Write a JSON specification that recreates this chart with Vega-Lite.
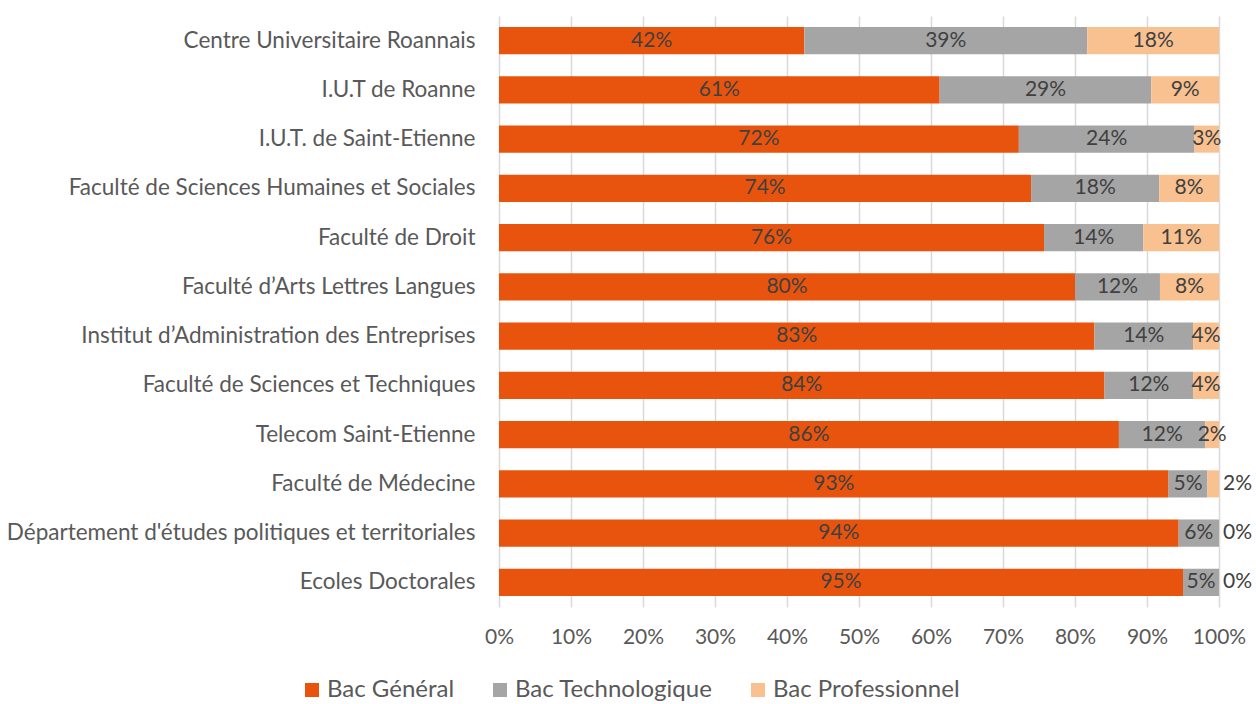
{
  "$schema": "https://vega.github.io/schema/vega-lite/v6.json",
  "width": 720,
  "height": 591,
  "autosize": {"type": "none"},
  "padding": {"left": 499, "top": 16, "right": 37, "bottom": 97},
  "background": "white",
  "config": {
    "view": {"stroke": null},
    "font": "Lato",
    "axis": {"labelFont": "Lato", "labelColor": "#595959"},
    "legend": {"labelFont": "Lato"}
  },
  "data": {
    "values": [
      {"etab": "Centre Universitaire Roannais", "type": "Bac Général", "value": 0.424},
      {"etab": "Centre Universitaire Roannais", "type": "Bac Technologique", "value": 0.393},
      {"etab": "Centre Universitaire Roannais", "type": "Bac Professionnel", "value": 0.183},
      {"etab": "I.U.T de Roanne", "type": "Bac Général", "value": 0.612},
      {"etab": "I.U.T de Roanne", "type": "Bac Technologique", "value": 0.294},
      {"etab": "I.U.T de Roanne", "type": "Bac Professionnel", "value": 0.094},
      {"etab": "I.U.T. de Saint-Etienne", "type": "Bac Général", "value": 0.722},
      {"etab": "I.U.T. de Saint-Etienne", "type": "Bac Technologique", "value": 0.244},
      {"etab": "I.U.T. de Saint-Etienne", "type": "Bac Professionnel", "value": 0.034},
      {"etab": "Faculté de Sciences Humaines et Sociales", "type": "Bac Général", "value": 0.739},
      {"etab": "Faculté de Sciences Humaines et Sociales", "type": "Bac Technologique", "value": 0.178},
      {"etab": "Faculté de Sciences Humaines et Sociales", "type": "Bac Professionnel", "value": 0.083},
      {"etab": "Faculté de Droit", "type": "Bac Général", "value": 0.757},
      {"etab": "Faculté de Droit", "type": "Bac Technologique", "value": 0.138},
      {"etab": "Faculté de Droit", "type": "Bac Professionnel", "value": 0.105},
      {"etab": "Faculté d’Arts Lettres Langues", "type": "Bac Général", "value": 0.800},
      {"etab": "Faculté d’Arts Lettres Langues", "type": "Bac Technologique", "value": 0.118},
      {"etab": "Faculté d’Arts Lettres Langues", "type": "Bac Professionnel", "value": 0.082},
      {"etab": "Institut d’Administration des Entreprises", "type": "Bac Général", "value": 0.827},
      {"etab": "Institut d’Administration des Entreprises", "type": "Bac Technologique", "value": 0.137},
      {"etab": "Institut d’Administration des Entreprises", "type": "Bac Professionnel", "value": 0.036},
      {"etab": "Faculté de Sciences et Techniques", "type": "Bac Général", "value": 0.841},
      {"etab": "Faculté de Sciences et Techniques", "type": "Bac Technologique", "value": 0.123},
      {"etab": "Faculté de Sciences et Techniques", "type": "Bac Professionnel", "value": 0.036},
      {"etab": "Telecom Saint-Etienne", "type": "Bac Général", "value": 0.861},
      {"etab": "Telecom Saint-Etienne", "type": "Bac Technologique", "value": 0.120},
      {"etab": "Telecom Saint-Etienne", "type": "Bac Professionnel", "value": 0.019},
      {"etab": "Faculté de Médecine", "type": "Bac Général", "value": 0.930},
      {"etab": "Faculté de Médecine", "type": "Bac Technologique", "value": 0.054},
      {"etab": "Faculté de Médecine", "type": "Bac Professionnel", "value": 0.016},
      {"etab": "Département d'études politiques et territoriales", "type": "Bac Général", "value": 0.944},
      {"etab": "Département d'études politiques et territoriales", "type": "Bac Technologique", "value": 0.056},
      {"etab": "Département d'études politiques et territoriales", "type": "Bac Professionnel", "value": 0.0},
      {"etab": "Ecoles Doctorales", "type": "Bac Général", "value": 0.950},
      {"etab": "Ecoles Doctorales", "type": "Bac Technologique", "value": 0.050},
      {"etab": "Ecoles Doctorales", "type": "Bac Professionnel", "value": 0.0}
    ]
  },
  "transform": [
    {"calculate": "indexof(['Bac Général','Bac Technologique','Bac Professionnel'], datum.type)", "as": "k"},
    {"stack": "value", "groupby": ["etab"], "sort": [{"field": "k", "order": "ascending"}], "as": ["x0", "x1"]},
    {"calculate": "(datum.x0 + datum.x1) / 2", "as": "mid"}
  ],
  "encoding": {
    "y": {
      "field": "etab",
      "type": "nominal",
      "sort": null,
      "title": null,
      "scale": {"paddingInner": 0.45, "paddingOuter": 0.225},
      "axis": {"ticks": false, "domain": false, "labelFontSize": 22.5, "labelPadding": 24, "labelLimit": 500}
    }
  },
  "layer": [
    {
      "mark": {"type": "bar"},
      "encoding": {
        "x": {
          "field": "x0",
          "type": "quantitative",
          "scale": {"domain": [0, 1], "nice": false},
          "title": null,
          "axis": {
            "format": ".0%",
            "values": [0, 0.1, 0.2, 0.3, 0.4, 0.5, 0.6, 0.7, 0.8, 0.9, 1],
            "ticks": false,
            "domain": false,
            "grid": true,
            "gridColor": "#D9D9D9",
            "gridWidth": 1.5,
            "labelFontSize": 21,
            "labelPadding": 19,
            "labelOverlap": false,
            "labelBound": false,
            "labelFlush": false
          }
        },
        "x2": {"field": "x1"},
        "color": {
          "field": "type",
          "type": "nominal",
          "scale": {
            "domain": ["Bac Général", "Bac Technologique", "Bac Professionnel"],
            "range": ["#E8540D", "#A5A5A5", "#F9C18F"]
          },
          "legend": {
            "title": null,
            "orient": "none",
            "direction": "horizontal",
            "legendX": -199,
            "legendY": 662,
            "symbolType": "square",
            "symbolSize": 196,
            "symbolStrokeWidth": 0,
            "labelFontSize": 24,
            "labelColor": "#595959",
            "labelOffset": 3,
            "labelLimit": 400,
            "columnPadding": 33
          }
        }
      }
    },
    {
      "transform": [{"filter": "!(datum.type == 'Bac Professionnel' && datum.value < 0.018)"}],
      "mark": {"type": "text", "fontSize": 21, "color": "#404040", "align": "center", "baseline": "middle"},
      "encoding": {
        "x": {"field": "mid", "type": "quantitative"},
        "text": {"field": "value", "type": "quantitative", "format": ".0%"}
      }
    },
    {
      "transform": [{"filter": "datum.type == 'Bac Professionnel' && datum.value < 0.018"}],
      "mark": {"type": "text", "fontSize": 21, "color": "#404040", "align": "left", "baseline": "middle", "dx": 4},
      "encoding": {
        "x": {"field": "x1", "type": "quantitative"},
        "text": {"field": "value", "type": "quantitative", "format": ".0%"}
      }
    }
  ]
}
